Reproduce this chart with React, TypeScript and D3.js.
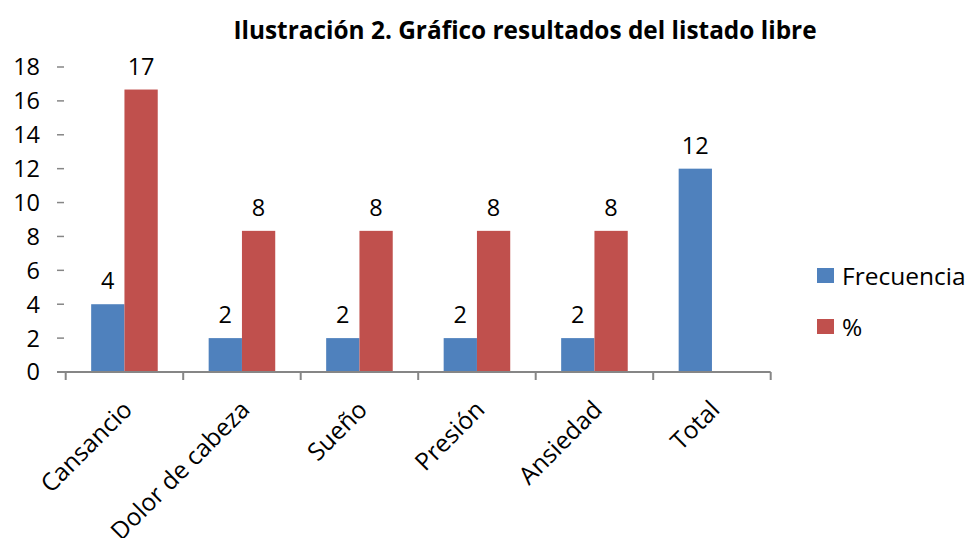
import React from "react";
import * as d3 from "d3";

const categories = ["Cansancio", "Dolor de cabeza", "Sueño", "Presión", "Ansiedad", "Total"];
const seriesNames = ["Frecuencia", "%"];
const frecuencia = [4, 2, 2, 2, 2, 12];
const porcentaje: (number | null)[] = [16.67, 8.33, 8.33, 8.33, 8.33, null];
const frecuenciaLabels = ["4", "2", "2", "2", "2", "12"];
const porcentajeLabels = ["17", "8", "8", "8", "8", ""];
const yTicks = [0, 2, 4, 6, 8, 10, 12, 14, 16, 18];
const colors = ["#4F81BD", "#C0504D"];
const title = "Ilustración 2. Gráfico resultados del listado libre";

const W = 967;
const H = 538;
const FONT = "'Open Sans', 'Noto Sans', sans-serif";

export default function App() {
  const x = d3.scaleBand<string>().domain(categories).range([65.7, 770.7]).paddingInner(0).paddingOuter(0);
  const xs = d3.scaleBand<string>().domain(seriesNames).range([0, x.bandwidth()]).paddingInner(0).paddingOuter(0.765);
  const y = d3.scaleLinear().domain([0, 18]).range([372, 67]);
  const series = [frecuencia, porcentaje];
  const labels = [frecuenciaLabels, porcentajeLabels];
  const axisColor = "#868686";
  const boundaries = categories.map((c) => x(c) as number).concat([(x(categories[categories.length - 1]) as number) + x.bandwidth()]);

  return (
    <div style={{ position: "absolute", left: 0, top: 0 }}>
      <svg width={W} height={H} style={{ display: "block", background: "#fff" }} fontFamily={FONT}>
        <text x={525} y={39} textAnchor="middle" fontSize={24.4} fontWeight="bold" fill="#000">
          {title}
        </text>
        {/* y ticks */}
        {yTicks.map((t) => (
          <g key={t}>
            <line x1={57} x2={64} y1={y(t)} y2={y(t)} stroke={axisColor} strokeWidth={1.5} />
            <text x={40} y={y(t)} dy="0.36em" textAnchor="end" fontSize={23.5} fill="#000">
              {t}
            </text>
          </g>
        ))}
        {/* bars */}
        {series.map((vals, si) =>
          vals.map((v, ci) =>
            v == null ? null : (
              <rect
                key={`${si}-${ci}`}
                x={(x(categories[ci]) as number) + (xs(seriesNames[si]) as number)}
                y={y(v)}
                width={xs.bandwidth()}
                height={y(0) - y(v)}
                fill={colors[si]}
              />
            )
          )
        )}
        {/* data labels */}
        {series.map((vals, si) =>
          vals.map((v, ci) =>
            v == null ? null : (
              <text
                key={`l-${si}-${ci}`}
                x={(x(categories[ci]) as number) + (xs(seriesNames[si]) as number) + xs.bandwidth() / 2}
                y={y(v) - 15}
                textAnchor="middle"
                fontSize={23.5}
                fill="#000"
              >
                {labels[si][ci]}
              </text>
            )
          )
        )}
        {/* x axis */}
        <line x1={57} x2={boundaries[boundaries.length - 1]} y1={y(0)} y2={y(0)} stroke={axisColor} strokeWidth={2} />
        {boundaries.map((b, i) => (
          <line key={`b-${i}`} x1={b} x2={b} y1={y(0)} y2={y(0) + 8} stroke={axisColor} strokeWidth={2} />
        ))}
        {categories.map((c) => {
          const cx = (x(c) as number) + x.bandwidth() / 2;
          return (
            <text
              key={c}
              transform={`translate(${cx + 3},${y(0) + 33}) rotate(-45)`}
              textAnchor="end"
              dy="0.36em"
              fontSize={24.5}
              fill="#000"
            >
              {c}
            </text>
          );
        })}
        {/* legend */}
        {seriesNames.map((s, i) => (
          <g key={s} transform={`translate(817,${268 + i * 51})`}>
            <rect x={0} y={0} width={17} height={15} fill={colors[i]} />
            <text x={25} y={8} dy="0.36em" fontSize={24.5} fill="#000">
              {s}
            </text>
          </g>
        ))}
      </svg>
    </div>
  );
}
